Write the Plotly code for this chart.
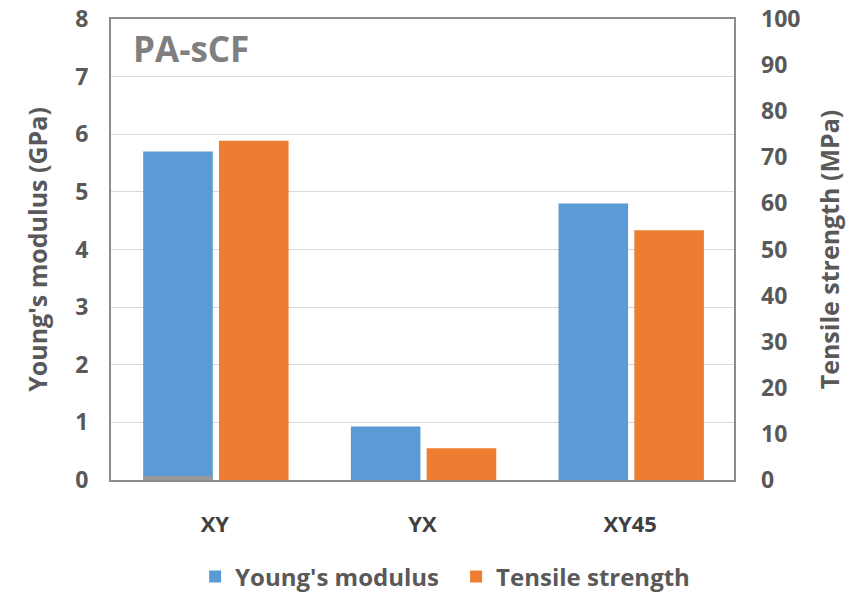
import plotly.graph_objects as go

categories = ["XY", "YX", "XY45"]
youngs_modulus_gpa = [5.7, 0.93, 4.8]
tensile_strength_mpa = [73.6, 6.9, 54.2]
base_strip_gpa = [0.07, 0, 0]

left_ticks = list(range(0, 9))
right_ticks = list(range(0, 101, 10))

FONT = "Open Sans"
TXT = "#595959"
BLUE = "#5B9BD5"
ORANGE = "#ED7D31"

fig = go.Figure()
fig.add_trace(go.Bar(
    x=categories, y=youngs_modulus_gpa, name="Young's modulus",
    marker=dict(color=BLUE, line=dict(width=0)),
    width=0.335, offset=-0.345, yaxis="y",
))
fig.add_trace(go.Bar(
    x=categories, y=base_strip_gpa, showlegend=False,
    marker=dict(color="#9a9a9a", line=dict(width=0)),
    width=0.335, offset=-0.345, yaxis="y", hoverinfo="skip",
))
fig.add_trace(go.Bar(
    x=categories, y=tensile_strength_mpa, name="Tensile strength",
    marker=dict(color=ORANGE, line=dict(width=0)),
    width=0.335, offset=0.02, yaxis="y2",
))

fig.update_layout(
    width=866, height=593,
    margin=dict(l=111, r=132, t=19, b=113, autoexpand=False),
    plot_bgcolor="white", paper_bgcolor="white",
    barmode="overlay",
    font=dict(family=FONT, color=TXT, size=22, weight="bold"),
    xaxis=dict(
        type="category", showgrid=False, ticks="", automargin=False,
        tickfont=dict(size=22, color="#404040", weight="bold"),
        ticklabelstandoff=24,
        showline=True, linecolor="#8c8c8c", linewidth=2, mirror=True,
    ),
    yaxis=dict(
        range=[0, 8], tickvals=left_ticks, showgrid=True, automargin=False,
        gridcolor="#d9d9d9", gridwidth=1,
        showline=True, linecolor="#8c8c8c", linewidth=2, mirror=True,
        ticks="", tickfont=dict(size=23, color=TXT), ticklabelstandoff=16,
        title=dict(text="Young's modulus (GPa)", font=dict(size=25, color=TXT), standoff=20),
        zeroline=False,
    ),
    yaxis2=dict(
        range=[0, 100], tickvals=right_ticks, overlaying="y", side="right",
        showgrid=False, showline=False, ticks="", automargin=False,
        tickfont=dict(size=23, color=TXT), ticklabelstandoff=26,
        title=dict(text="Tensile strength (MPa)", font=dict(size=25, color=TXT), standoff=22),
        zeroline=False,
    ),
    legend=dict(
        orientation="h", x=0.135, xanchor="left", y=-0.21, yanchor="middle",
        font=dict(size=24, color=TXT), traceorder="normal",
        itemsizing="constant", entrywidth=216,
    ),
    annotations=[dict(
        text="PA-sCF", xref="paper", yref="paper", x=0.032, y=0.935,
        xanchor="left", yanchor="middle", showarrow=False,
        font=dict(size=35, color="#7f7f7f", weight="bold"),
    )],
)

fig.write_html("out.html")
